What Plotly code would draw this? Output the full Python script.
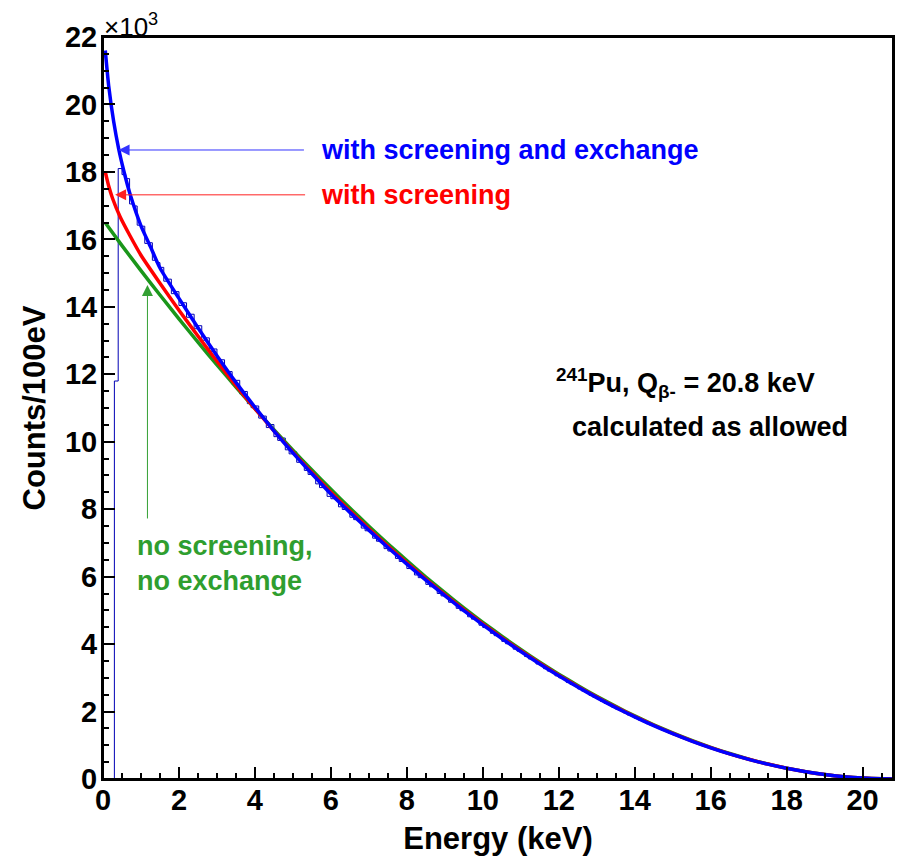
import plotly.graph_objects as go

# ---------------- data ----------------
bin_width_kev = 0.1
hist_counts = [
    0, 0, 0, 11800, 18100, 17920, 17800, 17050, 16990, 16420,
    16390, 15880, 15900, 15380, 15310, 15170, 14760, 14820, 14390, 14450,
    14040, 14120, 13690, 13780, 13350, 13440, 13010, 13080, 12680, 12750,
    12360, 12430, 12020, 12080, 11700, 11820, 11420, 11490, 11130, 11010,
    11060, 10700, 10760, 10420, 10510, 10150, 10040, 10110, 9760, 9640,
    9700, 9390, 9440, 9150, 9030, 9070, 8750, 8640, 8690, 8380,
    8310, 8360, 8070, 7990, 8040, 7760, 7690, 7720, 7440, 7360,
    7400, 7140, 7050, 7090, 6830, 6760, 6790, 6540, 6450, 6480,
    6240, 6270, 6050, 5970, 6000, 5770, 5700, 5720, 5500, 5430,
    5460, 5240, 5250, 5060, 4990, 5000, 4810, 4740, 4750, 4560,
    4490, 4500, 4320, 4250, 4260, 4080, 4010, 4020, 3850, 3790,
    3780, 3630, 3560, 3550, 3410, 3390, 3270, 3200, 3190, 3060,
    3000, 2990, 2860, 2800, 2790, 2670, 2610, 2590, 2480, 2420,
    2400, 2300, 2240, 2220, 2120, 2070, 2050, 1960, 1900, 1880,
    1795, 1745, 1725, 1640, 1590, 1570, 1495, 1445, 1425, 1350,
    1310, 1290, 1220, 1175, 1155, 1092, 1052, 1030, 972, 934,
    912, 858, 822, 801, 752, 718, 698, 652, 620, 602,
    559, 530, 512, 474, 447, 430, 396, 371, 355, 325,
    302, 286, 260, 240, 225, 203, 185, 172, 152, 138,
    125, 109, 98, 84, 74, 63, 53, 45, 37, 29,
    23, 17, 12, 8, 5, 2, 1, 0,
]

energy_blue = [0.06, 0.15, 0.28, 0.41, 0.55, 0.71, 1.0, 1.25, 1.5, 2.0, 2.5, 3.0, 3.5, 4.0,
               4.5, 5.0, 5.5, 6.0, 6.5, 7.0, 7.5, 8.0, 8.5, 9.0, 9.5, 10.0, 10.5, 11.0,
               11.5, 12.0, 12.5, 13.0, 13.5, 14.0, 14.5, 15.0, 15.5, 16.0, 16.5, 17.0,
               17.5, 18.0, 18.5, 19.0, 19.5, 20.0, 20.5, 20.8]
counts_blue = [21600, 20550, 19500, 18700, 18020, 17350, 16400, 15780, 15150, 14250, 13380,
               12550, 11760, 11025, 10325, 9672, 9051, 8451, 7905, 7376, 6865, 6371, 5894,
               5436, 4995, 4572, 4166, 3779, 3410, 3059, 2727, 2413, 2118, 1841, 1583, 1344,
               1125, 924, 743, 582, 440, 317, 215, 132, 69, 27, 4, 0]

energy_red = [0.06, 0.15, 0.25, 0.45, 0.7, 1.0, 1.5, 2.0, 2.5, 3.0, 3.5, 4.0, 4.5, 5.0,
              5.5, 6.0, 6.5, 7.0, 7.5, 8.0, 8.5, 9.0, 9.5, 10.0, 10.5, 11.0, 11.5, 12.0,
              12.5, 13.0, 13.5, 14.0, 14.5, 15.0, 15.5, 16.0, 16.5, 17.0, 17.5, 18.0,
              18.5, 19.0, 19.5, 20.0, 20.5, 20.8]
counts_red = [18000, 17580, 17220, 16670, 16130, 15530, 14700, 13900, 13133, 12388, 11667,
              10980, 10325, 9692, 9088, 8502, 7950, 7420, 6905, 6410, 5930, 5470, 5025,
              4600, 4192, 3802, 3430, 3078, 2743, 2427, 2130, 1852, 1593, 1352, 1132, 930,
              747, 585, 443, 319, 216, 133, 69, 27, 4, 0]

energy_green = [0.06, 0.5, 1.0, 1.5, 2.0, 2.5, 3.0, 3.5, 4.0, 4.5, 5.0, 5.5, 6.0, 6.5,
                7.0, 7.5, 8.0, 8.5, 9.0, 9.5, 10.0, 10.5, 11.0, 11.5, 12.0, 12.5, 13.0,
                13.5, 14.0, 14.5, 15.0, 15.5, 16.0, 16.5, 17.0, 17.5, 18.0, 18.5, 19.0,
                19.5, 20.0, 20.5, 20.8]
counts_green = [16490, 15814, 15074, 14350, 13643, 12952, 12278, 11621, 10980, 10356, 9750,
                9161, 8588, 8033, 7496, 6977, 6475, 5990, 5524, 5076, 4646, 4234, 3840,
                3465, 3109, 2771, 2452, 2152, 1871, 1609, 1366, 1143, 939, 755, 591, 447,
                322, 218, 134, 70, 27, 4, 0]

y_tick_values = [0, 2000, 4000, 6000, 8000, 10000, 12000, 14000, 16000, 18000, 20000, 22000]
y_tick_labels = ["0", "2", "4", "6", "8", "10", "12", "14", "16", "18", "20", "22"]
x_tick_values = [0, 2, 4, 6, 8, 10, 12, 14, 16, 18, 20]

# ---------------- figure ----------------
BLUE = "#0000ff"
RED = "#ff0000"
GREEN = "#1a961a"
FONT = "Liberation Sans, Arial, sans-serif"

hist_edges = [round(i * bin_width_kev, 2) for i in range(len(hist_counts) + 1)]
hist_y = hist_counts + [hist_counts[-1]]

fig = go.Figure()
fig.add_trace(go.Scatter(x=hist_edges, y=hist_y, mode="lines",
                         line=dict(color="#0000b4", width=1, shape="hv"),
                         showlegend=False, hoverinfo="skip"))
fig.add_trace(go.Scatter(x=energy_green, y=counts_green, mode="lines",
                         line=dict(color=GREEN, width=3.5, shape="spline", smoothing=0.6),
                         showlegend=False))
fig.add_trace(go.Scatter(x=energy_red, y=counts_red, mode="lines",
                         line=dict(color=RED, width=3.5, shape="spline", smoothing=0.6),
                         showlegend=False))
fig.add_trace(go.Scatter(x=energy_blue, y=counts_blue, mode="lines",
                         line=dict(color=BLUE, width=3.5, shape="spline", smoothing=0.6),
                         showlegend=False))

ann_font = dict(family=FONT, size=27)
annotations = [
    # arrows
    dict(x=0.41, y=18650, ax=5.33, ay=18650, xref="x", yref="y", axref="x", ayref="y",
         text="", showarrow=True, arrowhead=2, arrowsize=2.2, arrowwidth=1, arrowcolor="#3333ff"),
    dict(x=0.32, y=17320, ax=5.36, ay=17320, xref="x", yref="y", axref="x", ayref="y",
         text="", showarrow=True, arrowhead=2, arrowsize=2.2, arrowwidth=1, arrowcolor="#ff2020"),
    dict(x=1.17, y=14650, ax=1.17, ay=7680, xref="x", yref="y", axref="x", ayref="y",
         text="", showarrow=True, arrowhead=2, arrowsize=2.2, arrowwidth=1, arrowcolor="#33a033"),
    # labels
    dict(x=5.68, y=18650, xref="x", yref="y", xanchor="left", yanchor="middle",
         text="<b>with screening and exchange</b>", showarrow=False,
         font=dict(ann_font, color=BLUE)),
    dict(x=5.68, y=17320, xref="x", yref="y", xanchor="left", yanchor="middle",
         text="<b>with screening</b>", showarrow=False,
         font=dict(ann_font, color=RED)),
    dict(x=0.84, y=6400, xref="x", yref="y", xanchor="left", yanchor="middle", align="left",
         text="<b>no screening,<br>no exchange</b>", showarrow=False,
         font=dict(ann_font, color="#2f9e2f")),
    dict(x=11.87, y=11740, xref="x", yref="y", xanchor="left", yanchor="middle",
         text="<b><sup>241</sup>Pu, Q<sub>β-</sub> = 20.8 keV</b>", showarrow=False,
         font=dict(ann_font, color="black")),
    dict(x=12.29, y=10440, xref="x", yref="y", xanchor="left", yanchor="middle",
         text="<b>calculated as allowed</b>", showarrow=False,
         font=dict(ann_font, color="black")),
    dict(x=0, y=1.0, xref="paper", yref="paper", xanchor="left", yanchor="bottom",
         text="×10<sup>3</sup>", showarrow=False, xshift=-1, yshift=-7,
         font=dict(family=FONT, size=26, color="black")),
]

# the page body has an 8px margin; the figure is sized so the page does not
# overflow the 903x864 window and the frame sits at about x 103..893, y 37..779
fig.update_layout(
    width=887, height=848, autosize=False,
    margin=dict(l=95, r=2, t=29, b=77),
    paper_bgcolor="white", plot_bgcolor="white",
    font=dict(family=FONT, color="black"),
    annotations=annotations,
    shapes=[dict(type="rect", xref="paper", yref="paper", x0=0, x1=1, y0=0, y1=1,
                 line=dict(color="black", width=2), fillcolor="rgba(0,0,0,0)", layer="above")],
    showlegend=False,
)
fig.update_xaxes(
    range=[0, 20.8], tickvals=x_tick_values,
    ticktext=["<b>%d</b>" % v for v in x_tick_values],
    ticks="inside", ticklen=12, tickwidth=1.5, tickcolor="black",
    minor=dict(ticks="inside", ticklen=6, dtick=0.5, tick0=0, tickcolor="black", tickwidth=1.5),
    showline=True, linecolor="black", linewidth=2, mirror=True,
    showgrid=False, zeroline=False, automargin=False, ticklabelstandoff=-6,
    tickfont=dict(family=FONT, size=29, color="black"),
    title=dict(text="<b>Energy (keV)</b>", font=dict(family=FONT, size=31, color="black"),
               standoff=16),
)
fig.update_yaxes(
    range=[0, 22000], tickvals=y_tick_values,
    ticktext=["<b>%s</b>" % t for t in y_tick_labels],
    ticks="inside", ticklen=12, tickwidth=1.5, tickcolor="black",
    minor=dict(ticks="inside", ticklen=6, dtick=500, tick0=0, tickcolor="black", tickwidth=1.5),
    showline=True, linecolor="black", linewidth=2, mirror=True,
    showgrid=False, zeroline=False, automargin=False, ticklabelstandoff=-2,
    tickfont=dict(family=FONT, size=29, color="black"),
    title=dict(text="<b>Counts/100eV</b>", font=dict(family=FONT, size=31, color="black"),
               standoff=10),
)

fig.write_html("out.html")
